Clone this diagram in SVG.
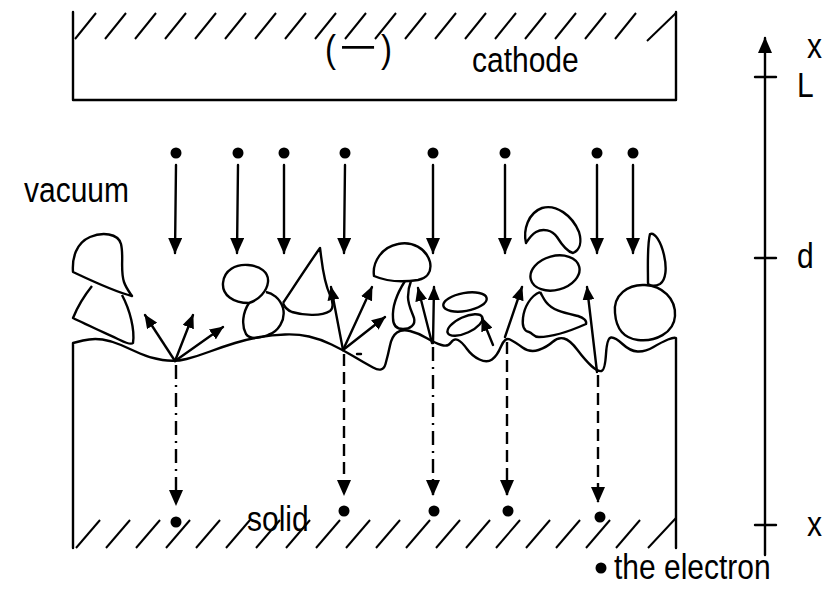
<svg xmlns="http://www.w3.org/2000/svg" width="830" height="589" viewBox="0 0 830 589">
  <defs>
    <style>
      .ln { fill: none; stroke: #000; stroke-width: 2.4; stroke-linecap: round; stroke-linejoin: round; }
      .hatch { fill: none; stroke: #000; stroke-width: 2; }
      .blob { fill: none; stroke: #000; stroke-width: 2.4; stroke-linejoin: round; }
      .dash { fill: none; stroke: #000; stroke-width: 2.4; stroke-dasharray: 12 6; }
      .dashdot { fill: none; stroke: #000; stroke-width: 2.4; stroke-dasharray: 14 6 2 6; }
      .dot { fill: #000; }
      .lbl { font-family: "Liberation Sans", Arial, sans-serif; font-size: 30px; fill: #000; }
    </style>
    <marker id="ah" viewBox="0 0 16 14" refX="15" refY="7" markerWidth="16" markerHeight="14" orient="auto" markerUnits="userSpaceOnUse">
      <path d="M0,0 L16,7 L0,14 z" fill="#000"/>
    </marker>
    <marker id="ahs" viewBox="0 0 14 12" refX="13" refY="6" markerWidth="14" markerHeight="12" orient="auto" markerUnits="userSpaceOnUse">
      <path d="M0,0 L14,6 L0,12 z" fill="#000"/>
    </marker>
  </defs>

  <!-- cathode plate -->
  <g id="cathode">
    <path class="ln" d="M73,12 L73,100 L676,100 L676,12"/>
    <g class="hatch">
      <line x1="75" y1="39" x2="96" y2="13"/>
      <line x1="105" y1="39" x2="126" y2="13"/>
      <line x1="135" y1="39" x2="156" y2="13"/>
      <line x1="165" y1="39" x2="186" y2="13"/>
      <line x1="195" y1="39" x2="216" y2="13"/>
      <line x1="225" y1="39" x2="246" y2="13"/>
      <line x1="255" y1="39" x2="276" y2="13"/>
      <line x1="285" y1="39" x2="306" y2="13"/>
      <line x1="315" y1="39" x2="336" y2="13"/>
      <line x1="345" y1="39" x2="366" y2="13"/>
      <line x1="375" y1="39" x2="396" y2="13"/>
      <line x1="405" y1="39" x2="426" y2="13"/>
      <line x1="435" y1="39" x2="456" y2="13"/>
      <line x1="465" y1="39" x2="486" y2="13"/>
      <line x1="495" y1="39" x2="516" y2="13"/>
      <line x1="525" y1="39" x2="546" y2="13"/>
      <line x1="555" y1="39" x2="576" y2="13"/>
      <line x1="585" y1="39" x2="606" y2="13"/>
      <line x1="615" y1="39" x2="636" y2="13"/>
      <line x1="647" y1="41" x2="676" y2="13"/>
    </g>
    <!-- polarity sign: brackets plus a horizontally widened minus -->
    <text class="lbl" style="font-size:33px" transform="translate(0,62) scale(1,1.15)"><tspan x="325">(</tspan><tspan x="381">)</tspan></text>
    <text class="lbl" style="font-size:33px" text-anchor="middle" transform="translate(358,60) scale(2,1.15)">−</text>
    <text class="lbl" transform="translate(472,72) scale(1,1.15)">cathode</text>
  </g>

  <!-- solid body with rough surface -->
  <g id="solid">
    <path class="ln" d="M73,548 L73,343 L83,340.5 Q93,338 102.5,339.5 Q112,341 121,345 Q130,349 140,353.5 Q150,358 162.5,360 Q175,362 186.5,359 Q198,356 210,351.5 Q222,347 235,343 Q248,339 260,337 Q272,335 285,334.5 Q298,334 309,336.5 Q320,339 331.5,344.5 Q343,350 353,356 Q363,362 373,367.5 Q383,373 385.5,364 Q388,355 390,345.5 Q392,336 397,332.5 Q402,329 410,331 Q418,333 426.5,338 Q435,343 441.5,345 Q448,347 451,342.5 Q454,338 458,340 Q462,342 467,349 Q472,356 479.5,359.5 Q487,363 492,359.5 Q497,356 501,346.5 Q505,337 510,339.5 Q515,342 522.5,347.5 Q530,353 538.5,350 Q547,347 552.5,342 Q558,337 564,338.5 Q570,340 577.5,350 Q585,360 591.5,366 Q598,372 601.5,371 Q605,370 606,354 Q607,338 611,337.5 Q615,337 622.5,344 Q630,351 637.5,351.5 Q645,352 653.5,347 Q662,342 668,339.5 Q674,337 676,338 L676,548"/>
    <g class="hatch">
      <line x1="76" y1="548" x2="100" y2="520"/>
      <line x1="106" y1="548" x2="130" y2="520"/>
      <line x1="136" y1="548" x2="160" y2="520"/>
      <line x1="166" y1="548" x2="190" y2="520"/>
      <line x1="196" y1="548" x2="220" y2="520"/>
      <line x1="226" y1="548" x2="250" y2="520"/>
      <line x1="256" y1="548" x2="280" y2="520"/>
      <line x1="286" y1="548" x2="310" y2="520"/>
      <line x1="316" y1="548" x2="340" y2="520"/>
      <line x1="346" y1="548" x2="370" y2="520"/>
      <line x1="376" y1="548" x2="400" y2="520"/>
      <line x1="406" y1="548" x2="430" y2="520"/>
      <line x1="436" y1="548" x2="460" y2="520"/>
      <line x1="466" y1="548" x2="490" y2="520"/>
      <line x1="496" y1="548" x2="520" y2="520"/>
      <line x1="526" y1="548" x2="550" y2="520"/>
      <line x1="556" y1="548" x2="580" y2="520"/>
      <line x1="586" y1="548" x2="610" y2="520"/>
      <line x1="616" y1="548" x2="640" y2="520"/>
      <line x1="648" y1="548" x2="676" y2="518"/>
    </g>
    <text class="lbl" transform="translate(247,531) scale(1,1.15)">solid</text>
  </g>

  <!-- clusters grown on the surface -->
  <g id="clusters">
    <path class="blob" d="M73,272 C72,258 76,243 90,237 C102,232 118,233 121,244 C124,256 120,270 124,282 C126,288 130,293 132,296 C115,292 90,280 73,272 Z"/>
    <path class="blob" d="M92,286 C84,296 77,308 73,318 C85,324 105,333 120,340 C126,343 131,345 133,343 C135,330 130,310 122,295"/>
    <path class="blob" d="M249,303 C233,303 222,295 223,283 C224,270 236,264 248,265 C260,266 269,272 268,282 C267,291 259,300 249,303 Z"/>
    <path class="blob" d="M249,303 C243,312 241,325 246,334 C250,340 260,338 268,335 C278,332 286,320 283,308 C280,298 272,293 266,292"/>
    <path class="blob" d="M283,303 C295,285 310,262 320,248 C322,262 323,280 330,295 C333,302 334,308 330,311 C322,316 305,316 292,312 C287,310 284,306 283,303"/>
    <path class="blob" d="M374,276 C372,262 382,247 398,244 C412,241 426,248 430,262 C432,272 427,278 418,280 C405,282 388,282 374,276 Z"/>
    <path class="blob" d="M405,281 C398,292 392,305 393,318 C393,326 397,329 403,329 C410,329 416,325 414,318 C412,312 408,305 408,297 C408,291 409,286 411,281"/>
    <ellipse class="blob" cx="465" cy="302" rx="22" ry="9" transform="rotate(-10 465 302)"/>
    <ellipse class="blob" cx="465" cy="325" rx="19" ry="8" transform="rotate(-25 465 325)"/>
    <path class="blob" d="M526,243 C523,230 528,213 542,208 C556,204 572,215 579,232 C582,242 580,250 573,253 C568,252 562,245 557,237 C552,230 543,228 536,232 C531,235 528,240 526,243 Z"/>
    <ellipse class="blob" cx="555" cy="273" rx="25" ry="17" transform="rotate(-15 555 273)"/>
    <path class="blob" d="M540,292 C530,296 524,308 523,318 C522,326 524,331 529,332 C533,333 533,337 539,337 C550,337 568,332 586,324 C587,321 584,318 578,316 C565,313 553,311 546,302 C543,298 542,295 540,292"/>
    <path class="blob" d="M615,313 C613,295 628,284 645,285 C662,286 676,298 675,316 C674,333 655,342 638,340 C622,338 616,326 615,313 Z"/>
    <path class="blob" d="M648,284 C648,265 647,245 650,234 C655,232 661,242 664,255 C667,268 666,280 660,284 C656,286 651,286 648,284 Z"/>
  </g>

  <!-- electrons -->
  <g id="electrons">
    <circle class="dot" cx="176" cy="153" r="5.5"/>
    <circle class="dot" cx="238" cy="153" r="5.5"/>
    <circle class="dot" cx="284" cy="153" r="5.5"/>
    <circle class="dot" cx="345" cy="153" r="5.5"/>
    <circle class="dot" cx="433" cy="153" r="5.5"/>
    <circle class="dot" cx="505" cy="153" r="5.5"/>
    <circle class="dot" cx="597" cy="153" r="5.5"/>
    <circle class="dot" cx="633" cy="153" r="5.5"/>
    <circle class="dot" cx="176" cy="522" r="5.5"/>
    <circle class="dot" cx="344" cy="511" r="5.5"/>
    <circle class="dot" cx="434" cy="511" r="5.5"/>
    <circle class="dot" cx="508" cy="511" r="5.5"/>
    <circle class="dot" cx="600" cy="517" r="5.5"/>
  </g>

  <!-- incident, reflected and absorbed electron paths -->
  <g id="connectors">
    <g class="ln" marker-end="url(#ah)">
      <line x1="176" y1="165" x2="175" y2="253"/>
      <line x1="238" y1="165" x2="237" y2="253"/>
      <line x1="284" y1="165" x2="284" y2="253"/>
      <line x1="345" y1="165" x2="344" y2="253"/>
      <line x1="433" y1="165" x2="433" y2="253"/>
      <line x1="505" y1="165" x2="505" y2="253"/>
      <line x1="597" y1="165" x2="597" y2="253"/>
      <line x1="633" y1="165" x2="633" y2="253"/>
    </g>
    <g class="ln" marker-end="url(#ahs)">
      <line x1="175" y1="361" x2="145" y2="315"/>
      <line x1="175" y1="361" x2="193" y2="315"/>
      <line x1="175" y1="361" x2="223" y2="327"/>
      <line x1="343" y1="350" x2="331" y2="287"/>
      <line x1="343" y1="350" x2="372" y2="287"/>
      <line x1="343" y1="350" x2="385" y2="317"/>
      <line x1="433" y1="343" x2="434" y2="287"/>
      <line x1="432" y1="343" x2="418" y2="288"/>
      <line x1="493" y1="345" x2="482" y2="318"/>
      <line x1="505" y1="337" x2="522" y2="287"/>
      <line x1="597" y1="372" x2="587" y2="287"/>
    </g>
    <line class="ln" x1="357" y1="354" x2="361" y2="354"/>
    <line class="dashdot" x1="176" y1="365" x2="176" y2="505" marker-end="url(#ah)"/>
    <line class="dash" x1="344" y1="354" x2="344" y2="495" marker-end="url(#ah)"/>
    <line class="dashdot" x1="433" y1="347" x2="433" y2="495" marker-end="url(#ah)"/>
    <line class="dash" x1="507" y1="342" x2="507" y2="495" marker-end="url(#ah)"/>
    <line class="dash" x1="598" y1="375" x2="598" y2="502" marker-end="url(#ah)"/>
  </g>

  <!-- x axis -->
  <g id="axis">
    <line class="ln" x1="765" y1="555" x2="765" y2="38" marker-end="url(#ah)"/>
    <line class="ln" x1="755" y1="77" x2="776" y2="77"/>
    <line class="ln" x1="755" y1="258" x2="776" y2="258"/>
    <line class="ln" x1="755" y1="525" x2="776" y2="525"/>
    <text class="lbl" transform="translate(807,58) scale(1,1.15)">x</text>
    <text class="lbl" transform="translate(797,97) scale(1,1.15)">L</text>
    <text class="lbl" transform="translate(797,268) scale(1,1.15)">d</text>
    <text class="lbl" transform="translate(807,536) scale(1,1.15)">x</text>
  </g>

  <g id="vacuum-label">
    <text class="lbl" transform="translate(24,202) scale(1,1.15)">vacuum</text>
  </g>

  <!-- legend -->
  <g id="legend">
    <circle class="dot" cx="601" cy="568" r="5.5"/>
    <text class="lbl" transform="translate(614,579) scale(1,1.15)">the electron</text>
  </g>
</svg>
